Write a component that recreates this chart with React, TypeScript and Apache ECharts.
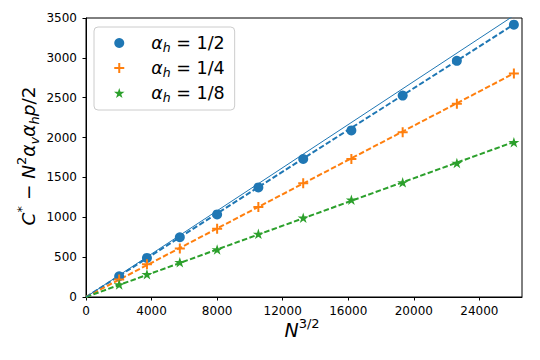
import React, { useEffect, useRef } from "react";
import * as echarts from "echarts";

// N^{3/2} values (N = 160 ... 880)
const xValues = [2024, 3718, 5724, 8000, 10516, 13252, 16190, 19320, 22627, 26105];
const yHalf = [260, 490, 750, 1036, 1375, 1731, 2090, 2527, 2963, 3416];
const yQuarter = [219, 411, 608, 855, 1128, 1426, 1731, 2067, 2423, 2804];
const yEighth = [156, 285, 436, 596, 792, 993, 1220, 1438, 1681, 1941];
const fitHalf = [[0, 0], [26105, 3420]];
const fitQuarter = [[0, 0], [26105, 2805]];
const fitEighth = [[0, 0], [26105, 1945]];
const theoryLine = [[0, 0], [26105, 3530]];
const seriesNames = ["a_half", "a_quarter", "a_eighth"];
const legendFractions = ["1/2", "1/4", "1/8"];
const colors = ["#1f77b4", "#ff7f0e", "#2ca02c"];

const FONT = "DejaVu Sans";
const PLUS = "path://M4,0H6V4H10V6H6V10H4V6H0V4H4Z";
const STAR =
  "path://M50,0L61.23,34.55L97.55,34.55L68.16,55.9L79.39,90.45L50,69.1L20.61,90.45L31.84,55.9L2.45,34.55L38.77,34.55Z";

export default function App() {
  const ref = useRef<HTMLDivElement>(null);
  useEffect(() => {
    if (!ref.current) return;
    const chart = echarts.init(ref.current, undefined, { renderer: "svg" });
    const pts = (ys: number[]) => xValues.map((x, i) => [x, ys[i]]);
    const symbols = ["circle", PLUS, STAR];
    const sizes: any[] = [10, 10, [11, 10.5]];
    const ysets = [yHalf, yQuarter, yEighth];
    const fits = [fitHalf, fitQuarter, fitEighth];
    const rich = {
      a: { fontFamily: FONT, fontSize: 17.5, fontStyle: "italic", color: "#000", lineHeight: 22 },
      s: { fontFamily: FONT, fontSize: 12.5, fontStyle: "italic", color: "#000", verticalAlign: "bottom", lineHeight: 12 },
      t: { fontFamily: FONT, fontSize: 17.5, color: "#000", lineHeight: 22 },
    };
    const nameMap: Record<string, string> = {};
    seriesNames.forEach((n, i) => (nameMap[n] = `{a|α}{s|h}{t| = ${legendFractions[i]}}`));

    const series: any[] = [];
    fits.forEach((f, i) => {
      series.push({
        type: "line",
        data: f,
        showSymbol: false,
        symbol: "none",
        lineStyle: { color: colors[i], width: 2, type: [5.5, 2.4] },
        z: 2,
      });
    });
    series.push({
      type: "line",
      data: theoryLine,
      symbol: "none",
      clip: true,
      lineStyle: { color: colors[0], width: 1 },
      z: 2,
    });
    ysets.forEach((ys, i) => {
      series.push({
        type: "scatter",
        name: seriesNames[i],
        data: pts(ys),
        symbol: symbols[i],
        symbolSize: sizes[i],
        itemStyle: { color: colors[i], opacity: 1 },
        z: 3,
      });
    });

    chart.setOption({
      animation: false,
      grid: {
        left: 86,
        top: 18,
        width: 436,
        height: 279,
        show: true,
        borderColor: "#000",
        borderWidth: 1,
        backgroundColor: "transparent",
      },
      legend: {
        left: 94,
        top: 27,
        orient: "vertical",
        data: seriesNames,
        formatter: (n: string) => nameMap[n],
        itemWidth: 20,
        itemHeight: 10,
        itemGap: 5,
        padding: [7, 10, 6, 20],
        backgroundColor: "#fff",
        borderColor: "#cccccc",
        borderWidth: 1,
        borderRadius: 4,
        textStyle: { rich, fontFamily: FONT, fontSize: 17.5, color: "#000", padding: [0, 0, 0, 17] },
      },
      xAxis: {
        type: "value",
        min: 0,
        max: 26600,
        interval: 4000,
        axisLine: { show: true, onZero: false, lineStyle: { color: "#000", width: 1 } },
        axisTick: { show: true, length: 3.5, lineStyle: { color: "#000" } },
        axisLabel: {
          showMaxLabel: false,
          fontFamily: FONT,
          fontSize: 12,
          color: "#000",
          margin: 8,
          formatter: (v: number) => String(v),
        },
        splitLine: { show: false },
      },
      yAxis: {
        type: "value",
        min: 0,
        max: 3500,
        interval: 500,
        axisLine: { show: true, onZero: false, lineStyle: { color: "#000", width: 1 } },
        axisTick: { show: true, length: 3.5, lineStyle: { color: "#000" } },
        axisLabel: { fontFamily: FONT, fontSize: 12, color: "#000", margin: 9, formatter: (v: number) => String(v) },
        splitLine: { show: false },
      },
      graphic: [
        {
          type: "text",
          x: 302,
          y: 330,
          style: {
            text: "{i|N}{sup|3/2}",
            align: "center",
            verticalAlign: "middle",
            rich: {
              i: { fontFamily: FONT, fontSize: 19, fontStyle: "italic", color: "#000", lineHeight: 26 },
              sup: { fontFamily: FONT, fontSize: 13, color: "#000", verticalAlign: "top", lineHeight: 13 },
            },
          },
        },
        {
          type: "text",
          x: 28,
          y: 156,
          rotation: Math.PI / 2,
          style: {
            text: "{i|C}{sup|*}{n| − }{i|N}{sup|2}{i|α}{sub|v}{i|α}{sub|h}{i|p}{n|/2}",
            align: "center",
            verticalAlign: "middle",
            rich: {
              i: { fontFamily: FONT, fontSize: 18.5, fontStyle: "italic", color: "#000", lineHeight: 26 },
              n: { fontFamily: FONT, fontSize: 18.5, color: "#000", lineHeight: 26 },
              sup: { fontFamily: FONT, fontSize: 13, color: "#000", verticalAlign: "top", lineHeight: 13 },
              sub: { fontFamily: FONT, fontSize: 13, fontStyle: "italic", color: "#000", verticalAlign: "bottom", lineHeight: 13 },
            },
          },
        },
      ],
      series,
    });
    return () => chart.dispose();
  }, []);
  return <div ref={ref} style={{ position: "absolute", left: 0, top: 0, width: 540, height: 360 }} />;
}
